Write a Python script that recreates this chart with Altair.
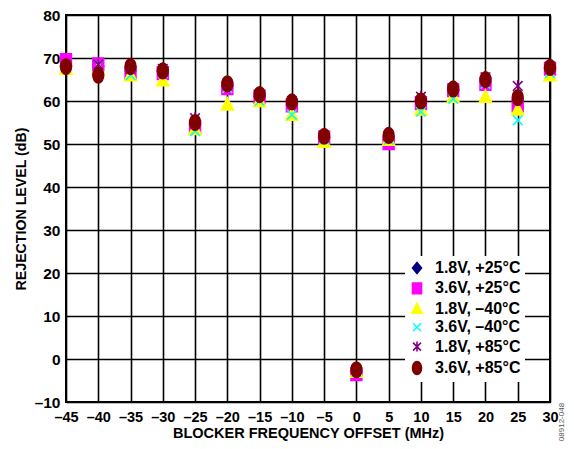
import altair as alt
import pandas as pd

offsets = [-45, -40, -35, -30, -25, -20, -15, -10, -5, 0, 5, 10, 15, 20, 25, 30]
series_names = ["1.8V, +25°C", "3.6V, +25°C", "1.8V, –40°C",
                "3.6V, –40°C", "1.8V, +85°C", "3.6V, +85°C"]

v18_p25 = [68.0, 68.0, 67.0, 67.0, 54.5, 63.5, 61.0, 59.0, 51.5, -3.0, 51.0, 60.0, 62.5, 64.5, 60.0, 67.5]
v36_p25 = [69.5, 68.5, 66.5, 66.5, 54.0, 63.0, 61.0, 59.0, 51.5, -3.5, 50.2, 59.5, 62.5, 64.0, 59.0, 67.5]
v18_m40 = [67.5, 67.5, 66.0, 64.8, 53.5, 59.2, 60.0, 56.8, 50.5, -3.0, 51.0, 58.0, 61.0, 61.0, 58.0, 66.0]
v36_m40 = [68.0, 68.5, 66.0, 66.5, 53.0, 63.0, 60.0, 56.8, 51.0, -3.0, 51.0, 57.5, 60.5, 64.0, 55.5, 66.5]
v18_p85 = [68.0, 68.5, 67.5, 67.5, 56.0, 64.0, 61.5, 60.0, 52.0, -2.5, 52.0, 61.0, 63.0, 65.5, 63.5, 68.0]
v36_p85 = [68.0, 66.0, 68.0, 67.0, 55.0, 64.0, 61.5, 59.8, 51.8, -2.5, 52.0, 60.0, 62.8, 65.0, 60.8, 67.8]

all_values = [v18_p25, v36_p25, v18_m40, v36_m40, v18_p85, v36_p85]
colors = ["#000080", "#FF00FF", "#FFFF00", "#00FFFF", "#800080", "#800000"]
shapes = [
    "M0,-1.1L0.9,0L0,1.1L-0.9,0Z",
    "M-0.9,-1.05L0.9,-1.05L0.9,1.05L-0.9,1.05Z",
    "M0,-1.1L1,0.9L-1,0.9Z",
    "M-0.8,-0.8L0.8,0.8M0.8,-0.8L-0.8,0.8",
    "M-0.8,-0.8L0.8,0.8M0.8,-0.8L-0.8,0.8M0,-1L0,1",
    "M0,-1.3C0.5,-1.3 0.9,-0.72 0.9,0C0.9,0.72 0.5,1.3 0,1.3C-0.5,1.3 -0.9,0.72 -0.9,0C-0.9,-0.72 -0.5,-1.3 0,-1.3Z",
]

rows = []
i = 0
for name, vals in zip(series_names, all_values):
    for o, v in zip(offsets, vals):
        rows.append({"offset": o, "value": v, "series": name, "idx": i})
        i += 1
df = pd.DataFrame(rows)

W, H = 484, 387
font = "Liberation Sans"
neg_expr = "datum.value < 0 ? '–' + abs(datum.value) : '' + datum.value"

leg = alt.Legend(title=None, orient="none", legendX=339, legendY=241)

points = alt.Chart(df).mark_point(filled=True, size=144, strokeWidth=1.6, opacity=1).encode(
    x=alt.X("offset:Q",
            scale=alt.Scale(domain=[-45, 30], nice=False, zero=False),
            axis=alt.Axis(values=offsets, title="BLOCKER FREQUENCY OFFSET (MHz)",
                          labelExpr=neg_expr, labelOverlap=False, labelFlush=False,
                          labelFontSize=14.5)),
    y=alt.Y("value:Q",
            scale=alt.Scale(domain=[-10, 80], nice=False, zero=False),
            axis=alt.Axis(values=list(range(-10, 81, 10)), title="REJECTION LEVEL (dB)",
                          labelExpr=neg_expr, labelOverlap=False, labelFlush=False)),
    color=alt.Color("series:N", scale=alt.Scale(domain=series_names, range=colors),
                    sort=series_names, legend=leg),
    stroke=alt.Stroke("series:N", scale=alt.Scale(domain=series_names, range=colors),
                      sort=series_names, legend=leg),
    shape=alt.Shape("series:N", scale=alt.Scale(domain=series_names, range=shapes),
                    sort=series_names, legend=leg),
    order=alt.Order("idx:Q"),
)

code_df = pd.DataFrame({"t": ["08912-048"]})
code = alt.Chart(code_df).mark_text(angle=270, fontSize=8, color="#555555", font=font,
                                    align="center", baseline="middle").encode(
    x=alt.value(W + 12), y=alt.value(H + 20), text="t:N")

chart = alt.layer(points, code).properties(
    width=W, height=H,
    autosize=alt.AutoSizeParams(type="none"),
    padding={"left": 58, "top": 7, "right": 16, "bottom": 40},
).configure_view(
    stroke="black", strokeWidth=2,
).configure_axis(
    grid=True, gridColor="black", gridWidth=1.6, gridOpacity=1,
    domain=False, ticks=False,
    labelFont=font, labelFontSize=15.5, labelFontWeight="bold", labelColor="black",
    titleFont=font, titleFontSize=14.2, titleFontWeight="bold", titleColor="black",
).configure_axisX(
    labelPadding=8, titlePadding=3, titleFontSize=14.5,
).configure_axisY(
    labelPadding=6, titlePadding=6,
).configure_legend(
    fillColor="white", padding=4, labelFont=font, labelFontSize=16,
    labelFontWeight="bold", labelColor="black", symbolSize=100,
    symbolStrokeWidth=1.6, rowPadding=2.4, labelOffset=10, symbolOpacity=1,
)

chart.save("out.html", embed_options={"renderer": "svg", "actions": False})
